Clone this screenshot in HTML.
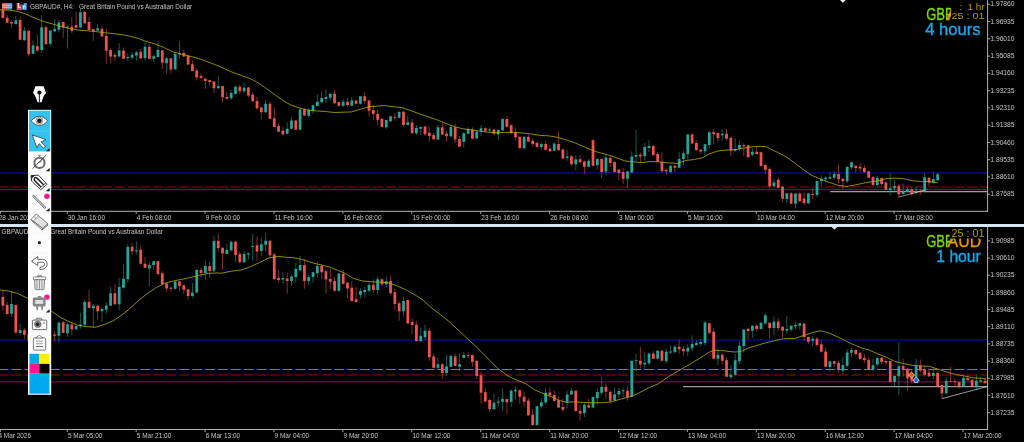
<!DOCTYPE html>
<html lang="en"><head><meta charset="utf-8"><title>GBPAUD charts</title>
<style>html,body{margin:0;padding:0;background:#000;overflow:hidden}svg{display:block}text{font-family:"Liberation Sans",Arial,sans-serif}</style></head><body>
<svg width="1024" height="442" viewBox="0 0 1024 442">
<defs><clipPath id="ct"><rect x="0" y="0" width="987.5" height="211"/></clipPath><clipPath id="cb"><rect x="0" y="227" width="987.5" height="202"/></clipPath></defs>
<rect width="1024" height="442" fill="#000"/>
<g id="top-chart">
<line x1="0" y1="172.9" x2="987.5" y2="172.9" stroke="#070774" stroke-width="1.7" opacity="1"/>
<line x1="0" y1="187.1" x2="987.5" y2="187.1" stroke="#6a0606" stroke-width="1.5" stroke-dasharray="9.9 3.02" stroke-dashoffset="1.6" opacity="1"/>
<line x1="0" y1="189.6" x2="987.5" y2="189.6" stroke="#66124f" stroke-width="1.3" opacity="1"/>
<line x1="830.2" y1="191.6" x2="987.5" y2="191.6" stroke="#9c9c9c" stroke-width="1.3" opacity="1"/>
<g clip-path="url(#ct)"><path d="M2.89 7.96V18.53M7.2 15.2V23.17M11.5 20.27V27.8M20.12 16.65V39.82M28.73 30.7V56.47M37.35 34.75V51.84M45.96 26.06V44.16M63.19 22.01V37.94M71.81 17.09V33.01M76.11 11.87V27.8M84.73 10.86V23.89M89.04 17.09V30.12M93.34 29.25V40.83M101.96 26.06V36.92M106.27 28.67V63.71M110.58 48.51V62.99M114.88 52.85V60.81M123.5 47.51V59.38M140.73 48.96V59.1M149.34 44.33V59.1M162.26 50.12V68.94M170.88 58.37V73.86M183.8 50.12V56.92M188.11 55.48V64.89M192.42 60.54V71.4M196.72 68.07V80.52M201.03 73.76V78.82M205.34 78.1V88.96M209.65 79.98V86.06M213.96 81V93.01M222.57 86.06V102.28M226.88 92.14V99.82M239.8 84.62V94.03M248.41 86.79V97.65M252.72 92.14V101.7M257.03 97V110.03M261.34 106.7V119.73M269.95 101.77V119.15M274.26 107.13V127.4M278.57 123.06V132.18M282.88 126.39V136.09M295.8 120.16V129.86M304.41 108.14V115.82M334.56 89.76V103.8M338.87 101.77V106.41M347.49 98.01V106.12M356.1 100.33V104.24M364.72 92.22V103.8M369.03 100.33V116.25M373.33 104.96V120.16M377.64 109.55V125.04M381.95 118.24V127.36M394.87 113.17V120.7M403.49 110.56V126.92M412.1 118.96V133.44M425.02 125.91V136.05M429.33 126.92V141.84M433.64 132.71V139.52M442.25 122.58V135.18M446.56 130.54V141.84M455.18 124.03V142.85M459.48 136.05V147.19M472.41 127.36V139.52M485.33 126.92V132.28M493.94 128.37V135.18M506.87 116.08V127.67M511.17 124.48V133.46M515.48 128.1V140.12M519.79 136.35V148.81M528.4 134.9V142.14M532.71 138.24V146.92M537.02 141.57V147.36M545.63 140.41V150.25M549.94 145.48V152.28M558.56 131V150.54M562.86 148.81V159.23M571.48 155.18V166.47M580.09 155.18V163.86M584.4 160.39V173.71M593.01 139.48V166.27M601.63 158.59V178.29M610.25 155.7V166.99M614.55 161.49V172.49M618.86 169.16V180.31M623.17 168.15V184.08M640.4 152.8V162.36M653.32 144.98V155.7M657.63 151.79V162.36M661.94 152.22V172.49M666.24 168.15V175.39M674.86 164.82V171.62M692.09 132.53V143.82M696.39 140.2V150.77M700.7 148.67V153.59M713.62 128.98V144.33M717.93 132.31V141.72M726.55 128.98V140.56M730.86 137.38V155.91M743.78 143.17V155.91M748.09 144.62V157.65M756.7 146.79V154.75M761.01 151.62V166.53M765.32 163.64V173.77M769.62 167.11V188.54M778.24 177.68V188.54M782.55 185.94V201.86M791.16 192.16V204.18M799.77 192.6V202.3M804.08 192.16V205.19M812.7 188.25V198.97M838.54 164.65V183.48M842.85 177.68V189.27M855.77 165.38V172.62M860.08 162.77V171.89M864.39 165.09V172.9M868.7 170.88V178.12M873 176.24V185.94M881.62 177.68V185.94M885.93 180.58V189.99M898.85 184.2V196.51M911.77 187.82V195.78M920.38 189.27V195.06M929 177.25V186.37" stroke="#ef5350" stroke-width="0.9" fill="none" opacity="0.62"/><path d="M1.51 9.41h2.75V18.1h-2.75zM5.82 17.67h2.75V22.73h-2.75zM10.13 22.01h2.75V23.46h-2.75zM18.74 19.98h2.75V39.82h-2.75zM27.36 30.7h2.75V54.3h-2.75zM35.97 46.05h2.75V50.39h-2.75zM44.59 27.22h2.75V44.16h-2.75zM61.82 22.01h2.75V27.51h-2.75zM70.43 26.79h2.75V30.7h-2.75zM74.74 24.9h2.75V27.8h-2.75zM83.36 11.87h2.75V23.17h-2.75zM87.66 22.01h2.75V30.12h-2.75zM91.97 29.25h2.75V31.13h-2.75zM100.59 28.96h2.75V36.49h-2.75zM104.89 35.91h2.75V50.68h-2.75zM109.2 49.95h2.75V56.47h-2.75zM113.51 55.02h2.75V56.76h-2.75zM122.12 50.41h2.75V58.81h-2.75zM139.35 51.86h2.75V58.37h-2.75zM147.97 46.79h2.75V58.81h-2.75zM160.89 50.41h2.75V62.71h-2.75zM169.5 58.37h2.75V69.52h-2.75zM182.43 53.01h2.75V56.49h-2.75zM186.74 55.48h2.75V64.6h-2.75zM191.04 64.16h2.75V70.97h-2.75zM195.35 70.39h2.75V77.19h-2.75zM199.66 75.93h2.75V77.67h-2.75zM203.97 78.82h2.75V81h-2.75zM208.27 80.27h2.75V82.01h-2.75zM212.58 81.43h2.75V88.24h-2.75zM221.19 86.06h2.75V97.36h-2.75zM225.5 96.92h2.75V98.81h-2.75zM238.43 86.79h2.75V91.13h-2.75zM247.04 87.51h2.75V95.48h-2.75zM251.35 94.46h2.75V101.27h-2.75zM255.65 100.9h2.75V108.14h-2.75zM259.96 107.57h2.75V112.2h-2.75zM268.58 103.8h2.75V118.71h-2.75zM272.88 118.28h2.75V126.97h-2.75zM277.19 125.95h2.75V131.75h-2.75zM281.5 130.73h2.75V134.21h-2.75zM294.42 120.6h2.75V129.86h-2.75zM303.04 109.59h2.75V115.38h-2.75zM333.19 93.67h2.75V103.22h-2.75zM337.5 102.06h2.75V105.68h-2.75zM346.11 101.77h2.75V104.96h-2.75zM354.73 100.62h2.75V103.8h-2.75zM363.34 96.27h2.75V100.9h-2.75zM367.65 100.62h2.75V110.75h-2.75zM371.96 110.03h2.75V113.94h-2.75zM376.26 113.89h2.75V119.68h-2.75zM380.57 118.67h2.75V126.92h-2.75zM393.5 116.79h2.75V117.8h-2.75zM402.11 111.72h2.75V125.04h-2.75zM410.73 122.58h2.75V133.15h-2.75zM423.65 126.49h2.75V134.16h-2.75zM427.95 132.71h2.75V136.05h-2.75zM432.26 134.89h2.75V139.23h-2.75zM440.88 127.36h2.75V134.6h-2.75zM445.19 133.73h2.75V136.33h-2.75zM453.8 127.36h2.75V139.52h-2.75zM458.11 138.94h2.75V146.76h-2.75zM471.03 129.38h2.75V138.51h-2.75zM483.95 128.37h2.75V130.83h-2.75zM492.57 129.38h2.75V133.73h-2.75zM505.49 118.98h2.75V126.65h-2.75zM509.8 125.2h2.75V133.17h-2.75zM514.11 132.44h2.75V137.22h-2.75zM518.41 136.79h2.75V147.94h-2.75zM527.03 136.79h2.75V141.57h-2.75zM531.34 140.7h2.75V144.03h-2.75zM535.64 143.01h2.75V146.92h-2.75zM544.26 144.03h2.75V149.82h-2.75zM548.57 148.81h2.75V151.27h-2.75zM557.18 144.03h2.75V150.25h-2.75zM561.49 149.38h2.75V158.51h-2.75zM570.1 156.33h2.75V164.3h-2.75zM578.72 159.23h2.75V162.13h-2.75zM583.02 161.4h2.75V166.76h-2.75zM591.64 140.2h2.75V165.83h-2.75zM600.25 159.03h2.75V172.06h-2.75zM608.87 158.01h2.75V162.94h-2.75zM613.18 161.92h2.75V172.06h-2.75zM617.49 169.6h2.75V173.07h-2.75zM621.79 172.06h2.75V178.86h-2.75zM639.02 154.68h2.75V156.13h-2.75zM651.95 146h2.75V155.12h-2.75zM656.25 153.96h2.75V161.49h-2.75zM660.56 161.92h2.75V171.05h-2.75zM664.87 169.89h2.75V171.33h-2.75zM673.48 165.83h2.75V167.71h-2.75zM690.71 134.41h2.75V143.53h-2.75zM695.02 143.1h2.75V150.34h-2.75zM699.33 149.68h2.75V151.42h-2.75zM712.25 132.31h2.75V134.05h-2.75zM716.56 133.03h2.75V138.1h-2.75zM725.17 133.76h2.75V138.82h-2.75zM729.48 137.67h2.75V150.7h-2.75zM742.4 144.9h2.75V146.35h-2.75zM746.71 145.34h2.75V157.36h-2.75zM755.33 151.86h2.75V154.03h-2.75zM759.63 152.34h2.75V166.1h-2.75zM763.94 165.09h2.75V169.72h-2.75zM768.25 169h2.75V186.37h-2.75zM776.86 179.86h2.75V187.82h-2.75zM781.17 186.81h2.75V198.68h-2.75zM789.78 193.18h2.75V203.75h-2.75zM798.4 193.61h2.75V201.29h-2.75zM802.71 198.39h2.75V203.02h-2.75zM811.32 194.05h2.75V195.06h-2.75zM837.17 174.06h2.75V179.13h-2.75zM841.48 178.7h2.75V181.3h-2.75zM854.4 165.67h2.75V167.98h-2.75zM858.71 166.82h2.75V168.56h-2.75zM863.01 167.98h2.75V171.89h-2.75zM867.32 171.17h2.75V177.68h-2.75zM871.63 176.96h2.75V184.92h-2.75zM880.24 178.12h2.75V183.91h-2.75zM884.55 182.46h2.75V189.7h-2.75zM897.47 185.65h2.75V194.33h-2.75zM910.39 189.27h2.75V194.05h-2.75zM919.01 190.71h2.75V191.73h-2.75zM927.62 177.68h2.75V182.75h-2.75z" fill="#ef5350"/><path d="M15.81 15.64V24.62M24.42 27.22V40.83M33.04 40.54V53.86M41.66 15.2V52.85M50.27 30.41V46.05M54.58 19.55V32.58M58.88 19.98V32.58M67.5 25.77V48.51M80.42 8.98V28.24M97.65 23.89V31.13M119.19 43.15V57.19M127.81 53.59V61.27M132.11 52.14V59.82M136.42 51.13V60.25M145.03 42.44V60.54M153.65 54.75V61.7M157.96 41.43V57.36M166.57 56.92V73.57M175.19 52.14V69.95M179.5 41V58.81M218.26 76.22V88.67M231.19 90.12V99.82M235.49 86.06V94.75M244.11 82.44V93.01M265.64 99.89V112.92M287.18 122.33V134.64M291.49 116.83V129.29M300.11 108.58V129.86M308.72 108.14V117.99M313.03 104.67V113.94M317.34 94.53V106.7M321.64 91.2V102.79M325.95 89.32V102.79M330.26 92.65V100.9M343.18 99.46V107.13M351.8 97V106.12M360.41 95.98V104.67M386.25 119.68V128.81M390.56 115.77V122.14M399.18 111V118.67M407.79 115.77V125.48M416.41 125.04V135.18M420.72 126.49V134.89M437.94 124.75V139.95M450.87 125.48V137.78M463.79 131.99V147.63M468.1 126.92V134.6M476.71 130.25V138.94M481.02 125.04V136.05M489.63 127.36V131.99M498.25 129.55V140.12M502.56 118.4V131.43M524.1 136.35V150.25M541.33 142.14V149.82M554.25 142.58V150.83M567.17 150.25V160.97M575.79 155.18V170.52M588.71 158.94V167.19M597.32 158.3V169.6M605.94 153.96V175.39M627.48 171.05V187.99M631.78 151.35V173.07M636.09 130.07V161.2M644.71 142.67V160.48M649.01 139.77V152.22M670.55 164.82V173.51M679.16 152.22V168.15M683.47 150.77V165.54M687.78 133.69V159.75M705.01 143.89V156.2M709.32 130.14V148.67M722.24 129.41V140.56M735.16 138.1V151.86M739.47 140.27V151.13M752.39 148.24V156.2M773.93 178.41V187.38M786.85 192.89V203.02M795.47 192.89V208.09M808.39 192.6V204.18M817 180.58V197.52M821.31 175.22V185.94M825.62 176.24V182.75M829.93 172.33V179.13M834.24 170.88V179.86M847.16 166.53V183.04M851.47 161.32V169.72M877.31 175.51V187.38M890.23 172.9V195.78M894.54 180.58V191.15M903.15 183.48V194.62M907.46 187.38V192.16M916.08 186.81V193.61M924.69 172.9V192.16M933.31 171.89V183.48M937.62 172.9V181.01" stroke="#26a69a" stroke-width="0.9" fill="none" opacity="0.62"/><path d="M14.44 20.27h2.75V23.89h-2.75zM23.05 30.7h2.75V40.25h-2.75zM31.66 45.61h2.75V53.86h-2.75zM40.28 27.22h2.75V49.95h-2.75zM48.89 30.41h2.75V43.87h-2.75zM53.2 28.96h2.75V31.13h-2.75zM57.51 22.44h2.75V29.68h-2.75zM66.12 26.5h2.75V27.51h-2.75zM79.05 12.31h2.75V27.51h-2.75zM96.28 28.24h2.75V30.41h-2.75zM117.81 50.39h2.75V56.47h-2.75zM126.43 56.92h2.75V58.37h-2.75zM130.74 54.75h2.75V57.65h-2.75zM135.05 52.14h2.75V55.48h-2.75zM143.66 46.79h2.75V57.94h-2.75zM152.28 56.2h2.75V58.81h-2.75zM156.58 50.12h2.75V56.92h-2.75zM165.2 58.37h2.75V63.15h-2.75zM173.81 54.03h2.75V69.23h-2.75zM178.12 53.01h2.75V54.46h-2.75zM216.89 86.06h2.75V88.24h-2.75zM229.81 93.01h2.75V98.37h-2.75zM234.12 86.79h2.75V94.03h-2.75zM242.73 87.8h2.75V91.13h-2.75zM264.27 103.8h2.75V112.2h-2.75zM285.81 128.85h2.75V133.63h-2.75zM290.12 120.6h2.75V128.85h-2.75zM298.73 109.59h2.75V129.86h-2.75zM307.35 110.03h2.75V115.82h-2.75zM311.65 105.25h2.75V111.04h-2.75zM315.96 101.77h2.75V106.12h-2.75zM320.27 98.01h2.75V102.35h-2.75zM324.57 97h2.75V98.88h-2.75zM328.88 94.1h2.75V97.72h-2.75zM341.81 101.77h2.75V105.68h-2.75zM350.42 100.62h2.75V105.68h-2.75zM359.04 96.27h2.75V103.8h-2.75zM384.88 120.12h2.75V127.36h-2.75zM389.19 116.35h2.75V121.13h-2.75zM397.8 112.01h2.75V117.8h-2.75zM406.42 122.14h2.75V125.04h-2.75zM415.03 127.94h2.75V133.15h-2.75zM419.34 126.92h2.75V128.81h-2.75zM436.57 127.36h2.75V139.52h-2.75zM449.49 126.92h2.75V136.33h-2.75zM462.42 133.15h2.75V141.84h-2.75zM466.72 129.1h2.75V133.73h-2.75zM475.34 131.7h2.75V138.51h-2.75zM479.64 128.37h2.75V131.27h-2.75zM488.26 129.38h2.75V130.54h-2.75zM496.88 129.98h2.75V134.33h-2.75zM501.18 118.98h2.75V130.27h-2.75zM522.72 136.79h2.75V147.94h-2.75zM539.95 144.03h2.75V146.92h-2.75zM552.87 143.59h2.75V150.83h-2.75zM565.8 156.62h2.75V158.07h-2.75zM574.41 159.23h2.75V164.3h-2.75zM587.33 160.68h2.75V166.76h-2.75zM595.95 159.03h2.75V165.25h-2.75zM604.56 157.58h2.75V171.62h-2.75zM626.1 171.62h2.75V178.86h-2.75zM630.41 156.57h2.75V172.49h-2.75zM634.72 155.12h2.75V156.86h-2.75zM643.33 147.01h2.75V156.13h-2.75zM647.64 146h2.75V147.88h-2.75zM669.18 165.83h2.75V172.06h-2.75zM677.79 159.03h2.75V167.71h-2.75zM682.1 153.24h2.75V159.03h-2.75zM686.4 134.41h2.75V153.96h-2.75zM703.63 144.18h2.75V151.13h-2.75zM707.94 132.31h2.75V144.9h-2.75zM720.87 133.76h2.75V135.2h-2.75zM733.79 148.96h2.75V150.7h-2.75zM738.1 144.9h2.75V148.96h-2.75zM751.02 151.86h2.75V154.75h-2.75zM772.56 182.46h2.75V186.37h-2.75zM785.48 193.18h2.75V198.97h-2.75zM794.09 193.61h2.75V203.75h-2.75zM807.01 193.61h2.75V203.31h-2.75zM815.63 181.01h2.75V195.06h-2.75zM819.94 178.7h2.75V181.3h-2.75zM824.25 177.68h2.75V179.13h-2.75zM828.55 176.96h2.75V178.41h-2.75zM832.86 174.06h2.75V177.68h-2.75zM845.78 166.82h2.75V181.3h-2.75zM850.09 162.19h2.75V167.55h-2.75zM875.94 177.68h2.75V184.92h-2.75zM888.86 188.25h2.75V189.99h-2.75zM893.16 185.94h2.75V188.25h-2.75zM901.78 191.15h2.75V194.05h-2.75zM906.09 189.27h2.75V191.73h-2.75zM914.7 190.71h2.75V193.18h-2.75zM923.32 177.25h2.75V191.44h-2.75zM931.93 179.13h2.75V182.75h-2.75zM936.24 174.35h2.75V180.14h-2.75z" fill="#26a69a"/></g>
<line x1="898.4" y1="197.2" x2="925" y2="190" stroke="#ddd" stroke-width="0.6"/>
<polyline points="0,9.8 8.7,10.1 17.4,11.3 26,14.2 34.8,18.1 43.4,21.4 52.1,23.9 60.8,26.4 69.5,28.5 78.2,30 86.9,30.7 95.6,31.6 104.3,32.6 113,33.6 121.6,34.6 128.7,35.9 137.4,38.1 146,41.4 154.8,43.9 163.4,47.2 172.1,51.6 180.8,54 189.5,56.2 198.2,58.4 206.9,61.5 215.6,64.8 224.3,68.6 233,72.5 241.6,75.6 250,78.6 256,81.5 264.7,87.3 273.4,93.7 282,99.9 290.8,105 299.4,108.1 308.1,110 316.8,111 325.5,111.5 334.2,112.5 342.9,112.2 351.6,111.9 360.3,109.3 369,106.7 377.6,106.1 384.7,105.6 393.4,106.7 402,107.7 410.8,110.6 419.4,113.9 428.1,116.8 436.8,119.7 445.5,123.3 454.2,126.5 462.9,128.8 471.6,129.8 480.3,131.3 489,132.3 497.6,132.7 504.7,132.4 513.4,132.4 522,132.9 530.8,133.9 539.4,135.3 548.1,135.8 556.8,137.2 565.5,139.7 574.2,142.6 582.9,146.2 591.6,150 598.7,152.5 607.4,154.7 616,157.6 624.8,160.9 633.4,161.9 642.1,162.6 650.8,161.5 659.5,161.9 668.2,162.9 676.9,163.4 685.6,160.5 694.3,159.5 703,157.6 708.7,154 717.4,151.1 726,150.1 734.8,149.7 743.4,148.2 752.1,146.8 760.8,146.4 766.6,146.8 772,149.8 777.4,152.3 786,156.7 794.8,163.2 803.4,169.7 812.1,175.5 820.8,179.1 829.5,182.5 838.2,185.4 846.9,186.4 855.6,184.9 864.3,183 873,181.6 881.6,180.1 886,178.7 894.8,178.1 903.4,178.7 912.1,180.6 920.8,181.6 929.5,181.6 937.6,182.8" fill="none" stroke="#b4ae00" stroke-width="0.8" stroke-linejoin="round"/>
</g>
<g id="bottom-chart">
<line x1="0" y1="339.8" x2="987.5" y2="339.8" stroke="#070774" stroke-width="1.7" opacity="1"/>
<line x1="0" y1="369.5" x2="987.5" y2="369.5" stroke="#9a9600" stroke-width="0.9" stroke-dasharray="9.9 3.02" stroke-dashoffset="1.6" opacity="1"/>
<line x1="0" y1="375" x2="987.5" y2="375" stroke="#6a0606" stroke-width="1.5" stroke-dasharray="9.9 3.02" stroke-dashoffset="1.6" opacity="1"/>
<line x1="0" y1="381.8" x2="987.5" y2="381.8" stroke="#66124f" stroke-width="1.3" opacity="1"/>
<line x1="683" y1="386.6" x2="987.5" y2="386.6" stroke="#9c9c9c" stroke-width="1.3" opacity="1"/>
<g clip-path="url(#cb)"><path d="M2.89 290.52V310.79M7.2 302.1V314.41M15.81 304.56V333.95M24.42 328.16V339.02M28.73 333.23V341.19M54.58 331.49V341.92M63.19 320.92V333.23M71.81 322.37V335.4M89.04 289.79V308.33M97.65 304.27V319.48M114.88 284.07V304.92M132.11 242.52V254.53M140.73 246.14V264.96M145.03 257V268.14M157.96 260.33V275.38M162.26 271.04V284.51M166.57 283.06V291.75M170.88 286.39V291.75M179.5 281.18V291.31M183.8 284.94V294.21M188.11 288.85V299.71M201.03 267.57V277.27M209.65 261.77V277.99M218.26 234.05V251.72M222.57 247.38V269.82M235.49 240.86V262.14M239.8 251.72V262.58M257.03 236.52V260.7M269.95 240.43V257.8M274.26 252.44V279.95M278.57 270.25V282.13M287.18 272.71V293.71M304.41 259.68V288.64M321.64 264.03V278.94M325.95 269.38V293.71M330.26 268.81V289.08M334.56 277.06V291.54M343.18 270.19V284.96M347.49 282.06V297.99M351.8 281.34V301.18M356.1 287.13V302.62M373.33 279.17V292.92M381.95 278.01V286.7M390.56 275.55V295.1M394.87 289.05V310.48M399.18 301.07V320.62M407.79 299.62V324.24M412.1 318.01V333.94M416.41 321.34V341.61M429.33 327.85V360.86M433.64 353.62V368.1M442.25 363.03V378.96M455.18 353.62V366.22M468.1 352.17V357.96M472.41 354.63V366.65M476.71 360.14V378.96M481.02 371.72V403.57M485.33 388.37V401.84M489.63 398.51V411.97M506.87 398.51V413.71M519.79 389.51V403.99M524.1 391.68V406.89M528.4 398.2V415.86M532.71 409.06V425.71M549.94 387.34V398.49M554.25 390.67V401.38M558.56 396.46V408.05M562.86 398.92V412.39M575.79 390.24V411.23M580.09 404.71V420.64M588.71 398.92V408.05M605.94 383.43V398.92M610.25 391.25V403.7M627.48 385.89V400.81M640.4 347.22V368.51M653.32 351.13V359.1M661.94 349.68V361.27M679.16 339.55V354.03M683.47 346.06V355.48M709.32 322.61V334.48M713.62 327.96V359.1M722.24 353.01V364.16M726.55 357.94V377.19M748.09 327.93V339.51M756.7 324.31V331.98M769.62 322.43V338.79M778.24 318.08V330.82M782.55 326.19V337.77M804.08 323.29V340.96M808.39 336.62V343.86M817 336.9V347.04M821.31 340.24V352.54M825.62 348.2V367.31M834.24 360.94V367.02M838.54 360.51V372.81M855.77 349.36V355.73M860.08 352.31V359.55M864.39 354.19V362.88M868.7 357.09V370.12M881.62 357.38V363.89M885.93 358.53V364.9M890.23 360.56V382.28M903.15 358.82V376.92M907.46 368.24V391.4M911.77 369.68V383.44M920.38 359.55V372.58M924.69 366.06V376.92M929 368.24V377.36M937.62 371.57V386.62M941.92 383.15V398.64M950.54 366.79V382.28M954.85 378.37V387.06M959.15 381.7V388.51M967.77 374.46V380.54M972.08 379.38V386.33M985 377.94V383.44" stroke="#ef5350" stroke-width="0.9" fill="none" opacity="0.62"/><path d="M1.51 297.03h2.75V305.72h-2.75zM5.82 305h2.75V314.12h-2.75zM14.44 305h2.75V332.51h-2.75zM23.05 330.05h2.75V334.68h-2.75zM27.36 333.95h2.75V340.47h-2.75zM53.2 334.39h2.75V335.84h-2.75zM61.82 322.37h2.75V332.94h-2.75zM70.43 324.54h2.75V329.18h-2.75zM87.66 301.67h2.75V307.89h-2.75zM96.28 305.72h2.75V311.22h-2.75zM113.51 293.19h2.75V304.34h-2.75zM130.74 246.86h2.75V251.2h-2.75zM139.35 249.76h2.75V263.8h-2.75zM143.66 263.8h2.75V267.86h-2.75zM156.58 261.34h2.75V273.94h-2.75zM160.89 273.36h2.75V284.07h-2.75zM165.2 283.49h2.75V288.42h-2.75zM169.5 287.84h2.75V288.85h-2.75zM178.12 281.61h2.75V285.95h-2.75zM182.43 285.23h2.75V289.86h-2.75zM186.74 289.29h2.75V296.09h-2.75zM199.66 270.03h2.75V272.92h-2.75zM208.27 266.12h2.75V271.04h-2.75zM216.89 240.86h2.75V248.1h-2.75zM221.19 247.67h2.75V253.46h-2.75zM234.12 241.87h2.75V254.9h-2.75zM238.43 253.89h2.75V262.14h-2.75zM255.65 245.2h2.75V251.43h-2.75zM268.58 240.86h2.75V255.34h-2.75zM272.88 254.62h2.75V278.94h-2.75zM277.19 278.07h2.75V279.95h-2.75zM285.81 278.51h2.75V280.97h-2.75zM303.04 265.04h2.75V280.97h-2.75zM320.27 265.91h2.75V272.28h-2.75zM324.57 271.27h2.75V279.52h-2.75zM328.88 278.94h2.75V281.84h-2.75zM333.19 280.97h2.75V290.81h-2.75zM341.81 273.67h2.75V283.8h-2.75zM346.11 282.79h2.75V288.58h-2.75zM350.42 287.86h2.75V300.89h-2.75zM354.73 299.15h2.75V302.05h-2.75zM371.96 284.67h2.75V290.03h-2.75zM380.57 279.17h2.75V284.24h-2.75zM389.19 280.9h2.75V293.36h-2.75zM393.5 292.24h2.75V303.96h-2.75zM397.8 303.24h2.75V311.2h-2.75zM406.42 300.05h2.75V323.22h-2.75zM410.73 322.06h2.75V324.96h-2.75zM415.03 324.67h2.75V340.89h-2.75zM427.95 330.74h2.75V357.24h-2.75zM432.26 356.52h2.75V367.67h-2.75zM440.88 364.19h2.75V372.88h-2.75zM453.8 356.52h2.75V365.93h-2.75zM466.72 355.07h2.75V356.08h-2.75zM471.03 355.07h2.75V361.87h-2.75zM475.34 360.86h2.75V376.06h-2.75zM479.64 375.34h2.75V392.71h-2.75zM483.95 392.28h2.75V401.4h-2.75zM488.26 399.95h2.75V409.08h-2.75zM505.49 398.94h2.75V402.13h-2.75zM518.41 390.24h2.75V396.75h-2.75zM522.72 396.75h2.75V401.82h-2.75zM527.03 400.81h2.75V415.29h-2.75zM531.34 414.42h2.75V424.99h-2.75zM548.57 392.41h2.75V395.3h-2.75zM552.87 395.01h2.75V401.1h-2.75zM557.18 400.37h2.75V407.61h-2.75zM561.49 406.89h2.75V409.78h-2.75zM574.41 390.67h2.75V410.94h-2.75zM578.72 410.94h2.75V413.4h-2.75zM587.33 405.15h2.75V407.61h-2.75zM604.56 386.9h2.75V391.68h-2.75zM608.87 391.68h2.75V400.81h-2.75zM626.1 390.67h2.75V397.04h-2.75zM639.02 360.83h2.75V364.6h-2.75zM651.95 353.59h2.75V358.81h-2.75zM660.56 350.7h2.75V360.83h-2.75zM677.79 346.79h2.75V349.25h-2.75zM682.1 348.96h2.75V351.13h-2.75zM707.94 323.19h2.75V332.74h-2.75zM712.25 331.87h2.75V358.81h-2.75zM720.87 354.75h2.75V360.83h-2.75zM725.17 360.25h2.75V376.76h-2.75zM746.71 328.65h2.75V331.11h-2.75zM755.33 325.76h2.75V329.09h-2.75zM768.25 322.86h2.75V327.93h-2.75zM776.86 321.41h2.75V327.93h-2.75zM781.17 326.77h2.75V330.82h-2.75zM802.71 323.58h2.75V336.9h-2.75zM807.01 336.9h2.75V341.68h-2.75zM815.63 338.79h2.75V345.01h-2.75zM819.94 344.14h2.75V351.82h-2.75zM824.25 351.38h2.75V366.73h-2.75zM832.86 361.23h2.75V363.84h-2.75zM837.17 362.97h2.75V369.92h-2.75zM854.4 349.94h2.75V353.99h-2.75zM858.71 352.74h2.75V359.11h-2.75zM863.01 358.1h2.75V360.27h-2.75zM867.32 359.98h2.75V369.68h-2.75zM880.24 357.67h2.75V362.01h-2.75zM884.55 361h2.75V362.44h-2.75zM888.86 361h2.75V381.99h-2.75zM901.78 366.06h2.75V369.68h-2.75zM906.09 368.67h2.75V378.37h-2.75zM910.39 373.01h2.75V380.83h-2.75zM919.01 366.06h2.75V370.41h-2.75zM923.32 369.68h2.75V374.75h-2.75zM927.62 372.58h2.75V376.2h-2.75zM936.24 373.01h2.75V386.33h-2.75zM940.55 384.89h2.75V393.29h-2.75zM949.16 381.18h2.75V382.08h-2.75zM953.47 381.27h2.75V382.28h-2.75zM957.78 381.99h2.75V386.33h-2.75zM966.39 377.94h2.75V380.25h-2.75zM970.7 379.82h2.75V386.05h-2.75zM983.62 380.83h2.75V383.15h-2.75z" fill="#ef5350"/><path d="M11.5 290.52V317.01M20.12 323.38V334.68M58.88 320.92V341.92M67.5 322.81V336.85M76.11 325.27V331.06M80.42 312.67V328.89M84.73 299.2V325.99M93.34 304.27V327.44M101.96 307.17V321.94M106.27 302.1V313.68M110.58 286.68V305.94M119.19 278.28V310.14M123.5 264.24V288.85M127.81 243.96V282.62M136.42 241.5V254.82M149.34 262.06V286.39M153.65 260.9V269.59M175.19 281.18V289.86M192.42 283.06V297.54M196.72 269.01V293.19M205.34 260.62V279.73M213.96 236V272.2M226.88 243.76V254.33M231.19 240.43V251.72M244.11 251V263.01M248.41 252.44V259.68M252.72 234.05V260.7M261.34 237.96V256.35M265.64 232.9V251.43M282.88 272.28V283.86M291.49 274.16V285.75M295.8 263.01V281.84M300.11 256.06V271.7M308.72 275.18V285.02M313.03 271.7V282.85M317.34 261.57V277.78M338.87 273.09V291.48M360.41 288.14V298.71M364.72 287.13V297.7M369.03 282.35V292.92M377.64 276.56V293.94M386.25 276.56V287.13M403.49 296.72V316.27M420.72 327.86V341.61M425.02 324.67V340.16M437.94 357.24V370.27M446.56 354.63V375.77M450.87 354.63V367.38M459.48 353.62V371M463.79 352.17V358.4M493.94 393.44V410.09M498.25 396.62V406.47M502.56 388.81V410.81M511.17 389.1V407.19M515.48 386.2V399.95M537.02 405.73V425.71M541.33 398.2V408.62M545.63 388.79V403.99M567.17 390.96V408.62M571.48 388.06V395.01M584.4 402.54V417.02M593.01 396.46V408.05M597.32 388.06V405.15M601.63 377.2V395.01M614.55 387.77V400.81M618.86 388.06V397.91M623.17 388.35V397.48M631.78 360.54V397.03M636.09 354.03V371.4M644.71 352.58V369.23M649.01 352.58V365.61M657.63 350.41V359.82M666.24 348.24V363.44M670.55 345.34V354.03M674.86 345.34V353.3M687.78 343.89V356.2M692.09 335.2V351.13M696.39 340.27V345.77M700.7 338.82V346.06M705.01 320.72V345.77M717.93 348.24V364.89M730.86 365.18V378.64M735.16 354.03V375.75M739.47 340.96V364.56M743.78 329.09V352.54M752.39 325.03V338.06M761.01 322.43V329.38M765.32 313.16V323.87M773.93 316.63V335.17M786.85 316.34V333.72M791.16 325.32V331.98M795.47 321.41V329.38M799.77 322.86V330.1M812.7 336.33V346.75M829.93 360.51V371.66M842.85 356.89V374.26M847.16 349.36V367.31M851.47 347.91V357.18M873 358.82V370.7M877.31 357.38V366.79M894.54 375.48V387.06M898.85 341.74V395.02M916.08 358.82V382.28M933.31 368.24V378.81M946.23 376.92V395.02M963.46 375.91V386.62M976.38 374.75V389.95M980.69 376.92V382.71" stroke="#26a69a" stroke-width="0.9" fill="none" opacity="0.62"/><path d="M10.13 303.98h2.75V313.68h-2.75zM18.74 330.05h2.75V332.94h-2.75zM57.51 322.81h2.75V335.84h-2.75zM66.12 324.25h2.75V333.23h-2.75zM74.74 325.99h2.75V328.89h-2.75zM79.05 324.54h2.75V326.28h-2.75zM83.36 302.1h2.75V324.83h-2.75zM91.97 305.72h2.75V308.33h-2.75zM100.59 308.9h2.75V311.22h-2.75zM104.89 305.43h2.75V309.77h-2.75zM109.2 293.19h2.75V305.65h-2.75zM117.81 286.97h2.75V304.34h-2.75zM122.12 278.71h2.75V287.84h-2.75zM126.43 246.86h2.75V279.15h-2.75zM135.05 250.19h2.75V251.2h-2.75zM147.97 264.96h2.75V268.58h-2.75zM152.28 261.34h2.75V264.96h-2.75zM173.81 281.61h2.75V288.85h-2.75zM191.04 292.47h2.75V296.09h-2.75zM195.35 270.03h2.75V292.47h-2.75zM203.97 266.12h2.75V272.92h-2.75zM212.58 241.07h2.75V270.75h-2.75zM225.5 249.98h2.75V253.89h-2.75zM229.81 241.87h2.75V250.27h-2.75zM242.73 253.89h2.75V262.14h-2.75zM247.04 253.17h2.75V254.62h-2.75zM251.35 245.93h2.75V247.09h-2.75zM259.96 244.19h2.75V251h-2.75zM264.27 240.86h2.75V244.77h-2.75zM281.5 278.07h2.75V279.52h-2.75zM290.12 276.62h2.75V280.97h-2.75zM294.42 268.81h2.75V277.06h-2.75zM298.73 265.04h2.75V270.25h-2.75zM307.35 277.06h2.75V280.97h-2.75zM311.65 272.28h2.75V277.06h-2.75zM315.96 265.91h2.75V273.15h-2.75zM337.5 273.38h2.75V290.75h-2.75zM359.04 291.04h2.75V294.81h-2.75zM363.34 290.03h2.75V291.91h-2.75zM367.65 284.96h2.75V290.75h-2.75zM376.26 279.17h2.75V290.03h-2.75zM384.88 281.34h2.75V284.24h-2.75zM402.11 301.07h2.75V311.2h-2.75zM419.34 335.82h2.75V341.18h-2.75zM423.65 330.75h2.75V337.27h-2.75zM436.57 364.19h2.75V367.67h-2.75zM445.19 366.22h2.75V372.88h-2.75zM449.49 356.08h2.75V366.65h-2.75zM458.11 364.19h2.75V366.65h-2.75zM462.42 355.07h2.75V357.96h-2.75zM492.57 402.85h2.75V409.37h-2.75zM496.88 401.4h2.75V402.85h-2.75zM501.18 398.94h2.75V401.84h-2.75zM509.8 390.83h2.75V401.84h-2.75zM514.11 389.82h2.75V391.27h-2.75zM535.64 406.16h2.75V424.99h-2.75zM539.95 402.25h2.75V406.6h-2.75zM544.26 392.7h2.75V402.54h-2.75zM565.8 394.58h2.75V402.54h-2.75zM570.1 390.67h2.75V394.58h-2.75zM583.02 404.71h2.75V412.97h-2.75zM591.64 397.04h2.75V407.61h-2.75zM595.95 392.12h2.75V398.2h-2.75zM600.25 386.9h2.75V392.7h-2.75zM613.18 394.14h2.75V400.37h-2.75zM617.49 390.96h2.75V394.58h-2.75zM621.79 390.24h2.75V391.25h-2.75zM630.41 360.83h2.75V396.74h-2.75zM634.72 360.25h2.75V361.27h-2.75zM643.33 362.71h2.75V364.6h-2.75zM647.64 353.59h2.75V363.15h-2.75zM656.25 350.7h2.75V358.81h-2.75zM664.87 351.86h2.75V361.27h-2.75zM669.18 351.57h2.75V352.58h-2.75zM673.48 346.79h2.75V352.14h-2.75zM686.4 347.8h2.75V351.57h-2.75zM690.71 343.89h2.75V348.24h-2.75zM695.02 342.88h2.75V344.9h-2.75zM699.33 342.01h2.75V343.89h-2.75zM703.63 322.61h2.75V342.88h-2.75zM716.56 354.75h2.75V358.81h-2.75zM729.48 374.73h2.75V377.19h-2.75zM733.79 360.25h2.75V374.73h-2.75zM738.1 345.74h2.75V361.23h-2.75zM742.4 329.38h2.75V346.03h-2.75zM751.02 325.76h2.75V330.82h-2.75zM759.63 322.86h2.75V329.09h-2.75zM763.94 315.19h2.75V323.58h-2.75zM772.56 321.85h2.75V327.93h-2.75zM785.48 329.09h2.75V330.82h-2.75zM789.78 325.76h2.75V329.67h-2.75zM794.09 325.03h2.75V326.48h-2.75zM798.4 323.29h2.75V325.76h-2.75zM811.32 338.79h2.75V340.67h-2.75zM828.55 361.52h2.75V367.02h-2.75zM841.48 365.29h2.75V370.64h-2.75zM845.78 352.54h2.75V365.86h-2.75zM850.09 349.94h2.75V352.83h-2.75zM871.63 365.34h2.75V368.96h-2.75zM875.94 358.1h2.75V364.62h-2.75zM893.16 375.91h2.75V381.99h-2.75zM897.47 366.35h2.75V376.2h-2.75zM914.7 366.06h2.75V381.99h-2.75zM931.93 373.01h2.75V375.91h-2.75zM944.86 380.83h2.75V393.29h-2.75zM962.09 377.94h2.75V386.05h-2.75zM975.01 380.83h2.75V386.33h-2.75zM979.32 380.25h2.75V381.7h-2.75z" fill="#26a69a"/></g>
<line x1="941.8" y1="398.6" x2="987.1" y2="386.6" stroke="#ddd" stroke-width="0.7"/>
<polyline points="0,290.1 8.7,291 17.4,293.4 27.5,298.2 50.7,310.8 60.8,317.6 69.5,321.9 78.2,325.3 86.9,326.7 95.6,327.2 104.3,324.5 113,320.9 121.6,315.1 128,310.1 139.1,300 147.8,293.2 156.5,287.4 165.2,283.1 173.8,280.9 182.5,279.2 191.2,277.3 199.9,275.1 208.6,273.4 217.3,272.9 221.8,273.2 230.5,271.3 242.1,269.8 250.8,266.5 259.4,262.6 268.1,258.2 273.9,257.2 278.3,256.4 285.5,257.2 294.2,257.8 302.9,259.7 311.6,262.6 320.3,264.8 328.9,266.9 337.6,270.3 344.7,273.1 353.4,278.4 362,280.9 370.8,281.8 379.4,282.1 388.1,282.8 396.8,285.7 405.5,289.6 414.2,294.4 422.9,300 432,308.3 440.7,314.8 449.4,321.8 458.1,330 466.7,338 475.4,346 481,351.5 485.2,355.8 492.4,363 498.2,368.8 506.9,375.3 514.1,379 521.4,381.9 525.8,383.7 534.5,389.8 543.2,393.6 551.9,396.8 559.1,400.4 566.3,402.3 575,401.8 583.7,402.5 592.4,402.8 602.5,402.8 611.2,401.8 621.4,398.9 630,396.8 638.7,393.1 648,388.1 658.4,383.7 667.8,377.2 675,372.9 683.7,367.8 692.4,362.7 701.1,357.4 708.3,352.6 713.4,350.4 721.4,350.4 730,351.6 735.8,352.1 741.6,351.1 748.7,347.9 757.4,345.3 766.1,342.7 774.8,340.7 783.4,338.8 795,338.4 803.7,335.5 812.4,332.6 818.2,331.1 822.5,331.1 829.8,333.4 838.5,337.3 847.2,341.7 855.8,345.6 863.1,348.5 868.7,349.8 877.4,353.8 886.1,357.1 894.8,361.4 903.4,363.5 912.1,365.3 920.8,365.8 929.5,366.4 938.2,369.2 946.9,372.1 955.6,374.5 964.3,375.9 973,377.9 981.6,378.4 986,379.1" fill="none" stroke="#b4ae00" stroke-width="0.8" stroke-linejoin="round" clip-path="url(#cb)"/>
<line x1="911.7" y1="374.8" x2="916" y2="380.2" stroke="#fff" stroke-width="0.6" stroke-dasharray="1 1"/>
<path d="M908.4 375.2l3.100-3 3.100 3-1.600 1.300-1.500 1.400-1.500-1.400z" fill="#f04a1e" stroke="#f4ece8" stroke-width="0.700" stroke-linejoin="round"/>
<path d="M912.9 380.400l3.200-3.100 3.200 3.100-1.500.4v1.700h-3.400v-1.700z" fill="#1464c8" stroke="#f0f0f4" stroke-width="0.700" stroke-linejoin="round"/>
</g>
<g id="axes" stroke="#b2b2b2" stroke-width="1" fill="none">
<path d="M0 211.3H988M987.6 0V211.8M0 429.5H988M987.6 227V430"/>
<path d="M0.3 211.3v2.6M0.3 429.5v2.6M67.3 211.3v2.6M67.3 429.5v2.6M136.2 211.3v2.6M136.2 429.5v2.6M205.1 211.3v2.6M205.1 429.5v2.6M274 211.3v2.6M274 429.5v2.6M342.9 211.3v2.6M342.9 429.5v2.6M411.8 211.3v2.6M411.8 429.5v2.6M480.7 211.3v2.6M480.7 429.5v2.6M549.6 211.3v2.6M549.6 429.5v2.6M618.5 211.3v2.6M618.5 429.5v2.6M687.4 211.3v2.6M687.4 429.5v2.6M756.3 211.3v2.6M756.3 429.5v2.6M825.2 211.3v2.6M825.2 429.5v2.6M894.1 211.3v2.6M894.1 429.5v2.6M963 429.5v2.6M987.6 4.3h2.6M987.6 21.57h2.6M987.6 38.83h2.6M987.6 56.09h2.6M987.6 73.36h2.6M987.6 90.62h2.6M987.6 107.89h2.6M987.6 125.16h2.6M987.6 142.42h2.6M987.6 159.69h2.6M987.6 176.95h2.6M987.6 194.22h2.6M987.6 240.9h2.6M987.6 258.07h2.6M987.6 275.24h2.6M987.6 292.41h2.6M987.6 309.58h2.6M987.6 326.75h2.6M987.6 343.92h2.6M987.6 361.09h2.6M987.6 378.26h2.6M987.6 395.43h2.6M987.6 412.6h2.6" stroke-width="0.9"/>
</g>
<rect x="0" y="224" width="1024" height="3" fill="#d6e6f6"/>
<path d="M831.6 227h5.6l-2.8 2.7z" fill="#e6dce2"/>
<path d="M840 0h5.6l-2.8 2.7z" fill="#f0f0f0"/>
<g id="labels">
<text x="990.3" y="6.4" font-size="7.3" fill="#c4c4c4" textLength="24.3" lengthAdjust="spacingAndGlyphs">1.97860</text>
<text x="990.3" y="23.67" font-size="7.3" fill="#c4c4c4" textLength="24.3" lengthAdjust="spacingAndGlyphs">1.96935</text>
<text x="990.3" y="40.93" font-size="7.3" fill="#c4c4c4" textLength="24.3" lengthAdjust="spacingAndGlyphs">1.96010</text>
<text x="990.3" y="58.2" font-size="7.3" fill="#c4c4c4" textLength="24.3" lengthAdjust="spacingAndGlyphs">1.95085</text>
<text x="990.3" y="75.46" font-size="7.3" fill="#c4c4c4" textLength="24.3" lengthAdjust="spacingAndGlyphs">1.94160</text>
<text x="990.3" y="92.72" font-size="7.3" fill="#c4c4c4" textLength="24.3" lengthAdjust="spacingAndGlyphs">1.93235</text>
<text x="990.3" y="109.99" font-size="7.3" fill="#c4c4c4" textLength="24.3" lengthAdjust="spacingAndGlyphs">1.92310</text>
<text x="990.3" y="127.25" font-size="7.3" fill="#c4c4c4" textLength="24.3" lengthAdjust="spacingAndGlyphs">1.91385</text>
<text x="990.3" y="144.52" font-size="7.3" fill="#c4c4c4" textLength="24.3" lengthAdjust="spacingAndGlyphs">1.90460</text>
<text x="990.3" y="161.78" font-size="7.3" fill="#c4c4c4" textLength="24.3" lengthAdjust="spacingAndGlyphs">1.89535</text>
<text x="990.3" y="179.05" font-size="7.3" fill="#c4c4c4" textLength="24.3" lengthAdjust="spacingAndGlyphs">1.88610</text>
<text x="990.3" y="196.32" font-size="7.3" fill="#c4c4c4" textLength="24.3" lengthAdjust="spacingAndGlyphs">1.87685</text>
<text x="990.3" y="243" font-size="7.3" fill="#c4c4c4" textLength="24.3" lengthAdjust="spacingAndGlyphs">1.90985</text>
<text x="990.3" y="260.17" font-size="7.3" fill="#c4c4c4" textLength="24.3" lengthAdjust="spacingAndGlyphs">1.90610</text>
<text x="990.3" y="277.34" font-size="7.3" fill="#c4c4c4" textLength="24.3" lengthAdjust="spacingAndGlyphs">1.90235</text>
<text x="990.3" y="294.51" font-size="7.3" fill="#c4c4c4" textLength="24.3" lengthAdjust="spacingAndGlyphs">1.89860</text>
<text x="990.3" y="311.68" font-size="7.3" fill="#c4c4c4" textLength="24.3" lengthAdjust="spacingAndGlyphs">1.89485</text>
<text x="990.3" y="328.85" font-size="7.3" fill="#c4c4c4" textLength="24.3" lengthAdjust="spacingAndGlyphs">1.89110</text>
<text x="990.3" y="346.02" font-size="7.3" fill="#c4c4c4" textLength="24.3" lengthAdjust="spacingAndGlyphs">1.88735</text>
<text x="990.3" y="363.19" font-size="7.3" fill="#c4c4c4" textLength="24.3" lengthAdjust="spacingAndGlyphs">1.88360</text>
<text x="990.3" y="380.36" font-size="7.3" fill="#c4c4c4" textLength="24.3" lengthAdjust="spacingAndGlyphs">1.87985</text>
<text x="990.3" y="397.53" font-size="7.3" fill="#c4c4c4" textLength="24.3" lengthAdjust="spacingAndGlyphs">1.87610</text>
<text x="990.3" y="414.7" font-size="7.3" fill="#c4c4c4" textLength="24.3" lengthAdjust="spacingAndGlyphs">1.87235</text>
<text x="-1.2" y="220.1" font-size="7.3" fill="#c4c4c4" textLength="35.2" lengthAdjust="spacingAndGlyphs">28 Jan 2026</text>
<text x="67.9" y="220.1" font-size="7.3" fill="#c4c4c4" textLength="37.1" lengthAdjust="spacingAndGlyphs">30 Jan 16:00</text>
<text x="136.8" y="220.1" font-size="7.3" fill="#c4c4c4" textLength="34.45" lengthAdjust="spacingAndGlyphs">4 Feb 08:00</text>
<text x="205.7" y="220.1" font-size="7.3" fill="#c4c4c4" textLength="34.45" lengthAdjust="spacingAndGlyphs">9 Feb 00:00</text>
<text x="274.6" y="220.1" font-size="7.3" fill="#c4c4c4" textLength="38" lengthAdjust="spacingAndGlyphs">11 Feb 16:00</text>
<text x="343.5" y="220.1" font-size="7.3" fill="#c4c4c4" textLength="38" lengthAdjust="spacingAndGlyphs">16 Feb 08:00</text>
<text x="412.4" y="220.1" font-size="7.3" fill="#c4c4c4" textLength="38" lengthAdjust="spacingAndGlyphs">19 Feb 00:00</text>
<text x="481.3" y="220.1" font-size="7.3" fill="#c4c4c4" textLength="38" lengthAdjust="spacingAndGlyphs">23 Feb 16:00</text>
<text x="550.2" y="220.1" font-size="7.3" fill="#c4c4c4" textLength="38" lengthAdjust="spacingAndGlyphs">26 Feb 08:00</text>
<text x="619.1" y="220.1" font-size="7.3" fill="#c4c4c4" textLength="34.5" lengthAdjust="spacingAndGlyphs">3 Mar 00:00</text>
<text x="688" y="220.1" font-size="7.3" fill="#c4c4c4" textLength="34.5" lengthAdjust="spacingAndGlyphs">5 Mar 16:00</text>
<text x="756.9" y="220.1" font-size="7.3" fill="#c4c4c4" textLength="38.05" lengthAdjust="spacingAndGlyphs">10 Mar 04:00</text>
<text x="825.8" y="220.1" font-size="7.3" fill="#c4c4c4" textLength="38.05" lengthAdjust="spacingAndGlyphs">12 Mar 20:00</text>
<text x="894.7" y="220.1" font-size="7.3" fill="#c4c4c4" textLength="38.05" lengthAdjust="spacingAndGlyphs">17 Mar 08:00</text>
<text x="-1.6" y="438.2" font-size="7.3" fill="#c4c4c4" textLength="32.6" lengthAdjust="spacingAndGlyphs">4 Mar 2026</text>
<text x="67.9" y="438.2" font-size="7.3" fill="#c4c4c4" textLength="34.5" lengthAdjust="spacingAndGlyphs">5 Mar 05:00</text>
<text x="136.8" y="438.2" font-size="7.3" fill="#c4c4c4" textLength="34.5" lengthAdjust="spacingAndGlyphs">5 Mar 21:00</text>
<text x="205.7" y="438.2" font-size="7.3" fill="#c4c4c4" textLength="34.5" lengthAdjust="spacingAndGlyphs">6 Mar 13:00</text>
<text x="274.6" y="438.2" font-size="7.3" fill="#c4c4c4" textLength="34.5" lengthAdjust="spacingAndGlyphs">9 Mar 04:00</text>
<text x="343.5" y="438.2" font-size="7.3" fill="#c4c4c4" textLength="34.5" lengthAdjust="spacingAndGlyphs">9 Mar 20:00</text>
<text x="412.4" y="438.2" font-size="7.3" fill="#c4c4c4" textLength="38.05" lengthAdjust="spacingAndGlyphs">10 Mar 12:00</text>
<text x="481.3" y="438.2" font-size="7.3" fill="#c4c4c4" textLength="38.05" lengthAdjust="spacingAndGlyphs">11 Mar 04:00</text>
<text x="550.2" y="438.2" font-size="7.3" fill="#c4c4c4" textLength="38.05" lengthAdjust="spacingAndGlyphs">11 Mar 20:00</text>
<text x="619.1" y="438.2" font-size="7.3" fill="#c4c4c4" textLength="38.05" lengthAdjust="spacingAndGlyphs">12 Mar 12:00</text>
<text x="688" y="438.2" font-size="7.3" fill="#c4c4c4" textLength="38.05" lengthAdjust="spacingAndGlyphs">13 Mar 04:00</text>
<text x="756.9" y="438.2" font-size="7.3" fill="#c4c4c4" textLength="38.05" lengthAdjust="spacingAndGlyphs">13 Mar 20:00</text>
<text x="825.8" y="438.2" font-size="7.3" fill="#c4c4c4" textLength="38.05" lengthAdjust="spacingAndGlyphs">16 Mar 12:00</text>
<text x="894.7" y="438.2" font-size="7.3" fill="#c4c4c4" textLength="38.05" lengthAdjust="spacingAndGlyphs">17 Mar 04:00</text>
<text x="963.6" y="438.2" font-size="7.3" fill="#c4c4c4" textLength="38.05" lengthAdjust="spacingAndGlyphs">17 Mar 20:00</text>
<text x="29.9" y="9" font-size="7.3" fill="#c4c4c4" textLength="44" lengthAdjust="spacingAndGlyphs">GBPAUD#, H4:</text>
<text x="79.1" y="9" font-size="7.3" fill="#c4c4c4" textLength="113" lengthAdjust="spacingAndGlyphs">Great Britain Pound vs Australian Dollar</text>
<text x="1.6" y="234.2" font-size="7.3" fill="#c4c4c4" textLength="44" lengthAdjust="spacingAndGlyphs">GBPAUD#, H1:</text>
<text x="50.3" y="234.2" font-size="7.3" fill="#c4c4c4" textLength="112.6" lengthAdjust="spacingAndGlyphs">Great Britain Pound vs Australian Dollar</text>
</g>
<g id="title-icons">
<rect x="2" y="3" width="5" height="6.6" fill="#e2514c"/><rect x="7" y="3" width="5.2" height="6.6" fill="#3f8fe0"/>
<path d="M2 5.2h10.2M2 7.2h10.2" stroke="#f3e6e6" stroke-width="0.7"/>
<rect x="16.6" y="3" width="5" height="7" fill="#e2514c"/><rect x="21.6" y="3" width="5.2" height="7" fill="#3f8fe0"/>
<path d="M18.4 3v4.6h2.4M20.2 3.4h3.2M23.4 5.6v3M25 4.6v4" stroke="#fff" stroke-width="0.9" fill="none"/><rect x="19.6" y="3" width="4.2" height="1.6" fill="#111"/>
</g>
<g id="pair-labels">
<text x="926.2" y="20.3" font-size="17" fill="#78dc00" textLength="27.5" lengthAdjust="spacingAndGlyphs" stroke="#78dc00" stroke-width="0.35">GBP</text>
<text x="947.6" y="20.3" font-size="17" fill="#f29400" textLength="33.5" lengthAdjust="spacingAndGlyphs" stroke="#f29400" stroke-width="0.35">AUD</text>
<rect x="951" y="0" width="36" height="21" fill="#000"/>
<path d="M947 20.3L951 9.5" stroke="#f29400" stroke-width="1.1" opacity="0.85"/>
<text x="959.6" y="9.7" font-size="9.6" fill="#b49b00">:</text>
<text x="967.4" y="9.7" font-size="9.6" fill="#b49b00" textLength="17.2" lengthAdjust="spacingAndGlyphs">1 hr</text>
<text x="951.6" y="18.5" font-size="9.8" fill="#b49b00" textLength="33" lengthAdjust="spacingAndGlyphs">25 : 01</text>
<text x="925.2" y="34.9" font-size="17" fill="#14aaf0" textLength="55.4" lengthAdjust="spacingAndGlyphs" stroke="#14aaf0" stroke-width="0.35">4 hours</text>
<text x="926.2" y="247.2" font-size="17" fill="#78dc00" textLength="27.5" lengthAdjust="spacingAndGlyphs" stroke="#78dc00" stroke-width="0.35">GBP</text>
<text x="947.6" y="247.2" font-size="17" fill="#f29400" textLength="33.5" lengthAdjust="spacingAndGlyphs" stroke="#f29400" stroke-width="0.35">AUD</text>
<rect x="949.5" y="227.2" width="37.5" height="11.3" fill="#000"/>
<text x="951.6" y="237" font-size="10" fill="#b49b00" textLength="33" lengthAdjust="spacingAndGlyphs">25 : 01</text>
<text x="936.3" y="261.8" font-size="17" fill="#14aaf0" textLength="44.5" lengthAdjust="spacingAndGlyphs" stroke="#14aaf0" stroke-width="0.35">1 hour</text>
</g>
<g id="toolbar">
<path d="M35.4 86.200H43.600L46 92.900C43.600 95.500 42.300 99 41.600 102.300H37.400C36.700 99 35.400 95.500 33 92.900Z" fill="#fff"/>
<circle cx="39.4" cy="92.5" r="2.1" fill="#000"/><path d="M39.4 93v9.4" stroke="#000" stroke-width="0.9"/>
<rect x="28" y="109.8" width="23.2" height="285" fill="#fdfdfd"/>
<rect x="29" y="110.7" width="21.3" height="40.7" fill="#33c3ef"/>
<path d="M29 131.1h21.3" stroke="#5fd0f3" stroke-width="0.6"/>
<path d="M29 171.8h21.3M29 192.2h21.3M29 212.6h21.3M29 233h21.3M29 253.4h21.3M29 273.8h21.3M29 294.2h21.3M29 314.6h21.3M29 335h21.3" stroke="#eef3ee" stroke-width="0.6"/>
<path d="M31.3 120.9c2.4-3.3 5.1-4.5 8.1-4.5s5.7 1.2 8.1 4.5c-2.4 3.3-5.1 4.5-8.1 4.5s-5.700-1.200-8.100-4.500z" fill="#fff" stroke="#3a3a3a" stroke-width="0.8"/>
<circle cx="39.4" cy="120.8" r="3.4" fill="#fff" stroke="#666" stroke-width="0.7"/><circle cx="39.4" cy="120.8" r="2.4" fill="#1a1a1a"/>
<path d="M32.3 134.9l13.600 4.700-5 2.500 4.800 4.400-2.200 1.400-4.400-4.300-2.100 4.300z" fill="#fff" stroke="#3a3a3a" stroke-width="0.8" stroke-linejoin="round"/>
<path d="M49.700 151.3v-3.400l-4 3.400z" fill="#1a1a1a"/>
<path d="M49.700 171.3v-3.400l-4 3.400z" fill="#1a1a1a"/>
<path d="M49.700 191.3v-3.400l-4 3.400z" fill="#1a1a1a"/>
<path d="M49.700 211.3v-3.400l-4 3.400z" fill="#1a1a1a"/>
<path d="M49.700 312.6v-3.400l-4 3.400z" fill="#1a1a1a"/>
<circle cx="39.5" cy="162.900" r="5.1" fill="none" stroke="#6e6e6e" stroke-width="2.1"/>
<path d="M38 155.300h3M39.500 155.300v2.500M34.300 157.400l1.200 1.200M39.500 163l2-2.500" stroke="#7a7a7a" stroke-width="1" fill="none"/>
<path d="M46.400 154.900l-13.800 13.700" stroke="#2a2a2a" stroke-width="0.9"/>
<path d="M31.200 175.600l7.200-.400 8.700 9.100-6.500 5.400-9.100-8.700z" fill="#fff" stroke="#222" stroke-width="0.900" stroke-linejoin="round"/>
<path d="M31.200 175.600h3.300l-3.100 3.300z" fill="#222" stroke="#222" stroke-width="0.400"/>
<path d="M40.950 186.970L34.430 180.310C33.600 178 35.200 176.600 36.960 178.140L43.840 185.020" stroke="#222" stroke-width="1.500" fill="none"/>
<path d="M39.400 188.300l6.400-5.300" stroke="#222" stroke-width="0.700"/>
<circle cx="46.900" cy="196.2" r="2.700" fill="#ff1493"/>
<circle cx="46.900" cy="297.1" r="2.700" fill="#ff1493"/>
<path d="M33.600 195.200l12.300 12.100-1.200 1.100-12.200-12.100z" fill="#d8d8d8" stroke="#3c3c3c" stroke-width="0.700" stroke-linejoin="round"/>
<path d="M31.170 219.410L36.240 213.980L47.830 223.760L47.460 225.570L42.030 229.910L32.980 221.950Z" fill="#fff" stroke="#444" stroke-width="0.700" stroke-linejoin="round"/>
<path d="M33.340 221.100L38.410 215.790L47.830 223.760L42.760 228.460Z" fill="#e2e2e2" stroke="#555" stroke-width="0.500" stroke-linejoin="round"/>
<path d="M31.170 219.410L42.760 228.460L47.830 223.760M42.760 228.460L42.030 229.910M33.800 216.600l2.400 2" stroke="#444" stroke-width="0.600" fill="none"/>
<circle cx="39.400" cy="242.700" r="1.600" fill="#222"/>
<path d="M31.600 261.200l6.200-4.700v2.900h4.600c3.300 0 4.700 2.300 4.700 4.700 0 3.300-3 5.500-7.100 5.500v-2.300c3-.1 4.500-1.300 4.500-3.200 0-1.300-.8-1.900-2.100-1.900h-4.600v3.400z" fill="#fff" stroke="#3a3a3a" stroke-width="0.800" stroke-linejoin="round"/>
<rect x="37.600" y="275.300" width="3.800" height="1.800" rx="0.500" fill="#ddd" stroke="#555" stroke-width="0.600"/>
<rect x="33.400" y="276.900" width="12.300" height="2.800" rx="0.700" fill="#fff" stroke="#555" stroke-width="0.700"/>
<path d="M34.500 279.800h10.100l-.5 9a1 1 0 0 1-1 .9h-7.100a1 1 0 0 1-1-.9z" fill="#e6e6e6" stroke="#555" stroke-width="0.700"/>
<path d="M37 280.500v8.300M39.500 280.500v8.300M42 280.500v8.300" stroke="#8a8a8a" stroke-width="0.900"/>
<rect x="37.700" y="296" width="3.600" height="1.800" fill="#8a8a8a"/>
<rect x="32.800" y="297.500" width="12.800" height="8.900" rx="1.300" fill="#858585"/>
<rect x="35.200" y="300" width="8" height="3.900" fill="#e2e2e2"/>
<path d="M36 306.300l.7 4h1.200l.4-4zM41 306.300l.4 4h1.200l.7-4z" fill="#858585"/>
<path d="M35.800 320.100l.8-1.900h4.600l.8 1.900" fill="#ddd" stroke="#555" stroke-width="0.700"/>
<rect x="32.400" y="320.100" width="14.300" height="9.500" rx="0.800" fill="#fff" stroke="#4a4a4a" stroke-width="0.800"/>
<circle cx="37.800" cy="324.300" r="3.300" fill="#8c8c8c" stroke="#555" stroke-width="0.600"/><circle cx="37.600" cy="324.300" r="1.900" fill="#2a2a2a"/>
<circle cx="43.900" cy="323" r="0.800" fill="none" stroke="#555" stroke-width="0.500"/>
<rect x="33.400" y="337.800" width="12.300" height="12.300" rx="1.300" fill="#fff" stroke="#555" stroke-width="0.800"/>
<path d="M35.400 338l3.900-2.700 3.900 2.700z" fill="#fff" stroke="#555" stroke-width="0.700" stroke-linejoin="round"/>
<path d="M36 341.100h7.100M36 343.800h7.100" stroke="#8a8a8a" stroke-width="0.900"/><path d="M36 346.500h7.100" stroke="#444" stroke-width="0.800"/>
<rect x="29.400" y="353.800" width="9.900" height="10.100" fill="#00aaef"/><rect x="39.300" y="353.800" width="10.200" height="10.100" fill="#fff000"/>
<rect x="29.400" y="363.900" width="9.900" height="9.800" fill="#ff1493"/><rect x="39.300" y="363.900" width="10.200" height="9.800" fill="#000"/>
<rect x="29.400" y="373.700" width="20.100" height="20" fill="#00aaef"/>
</g>
</svg></body></html>
